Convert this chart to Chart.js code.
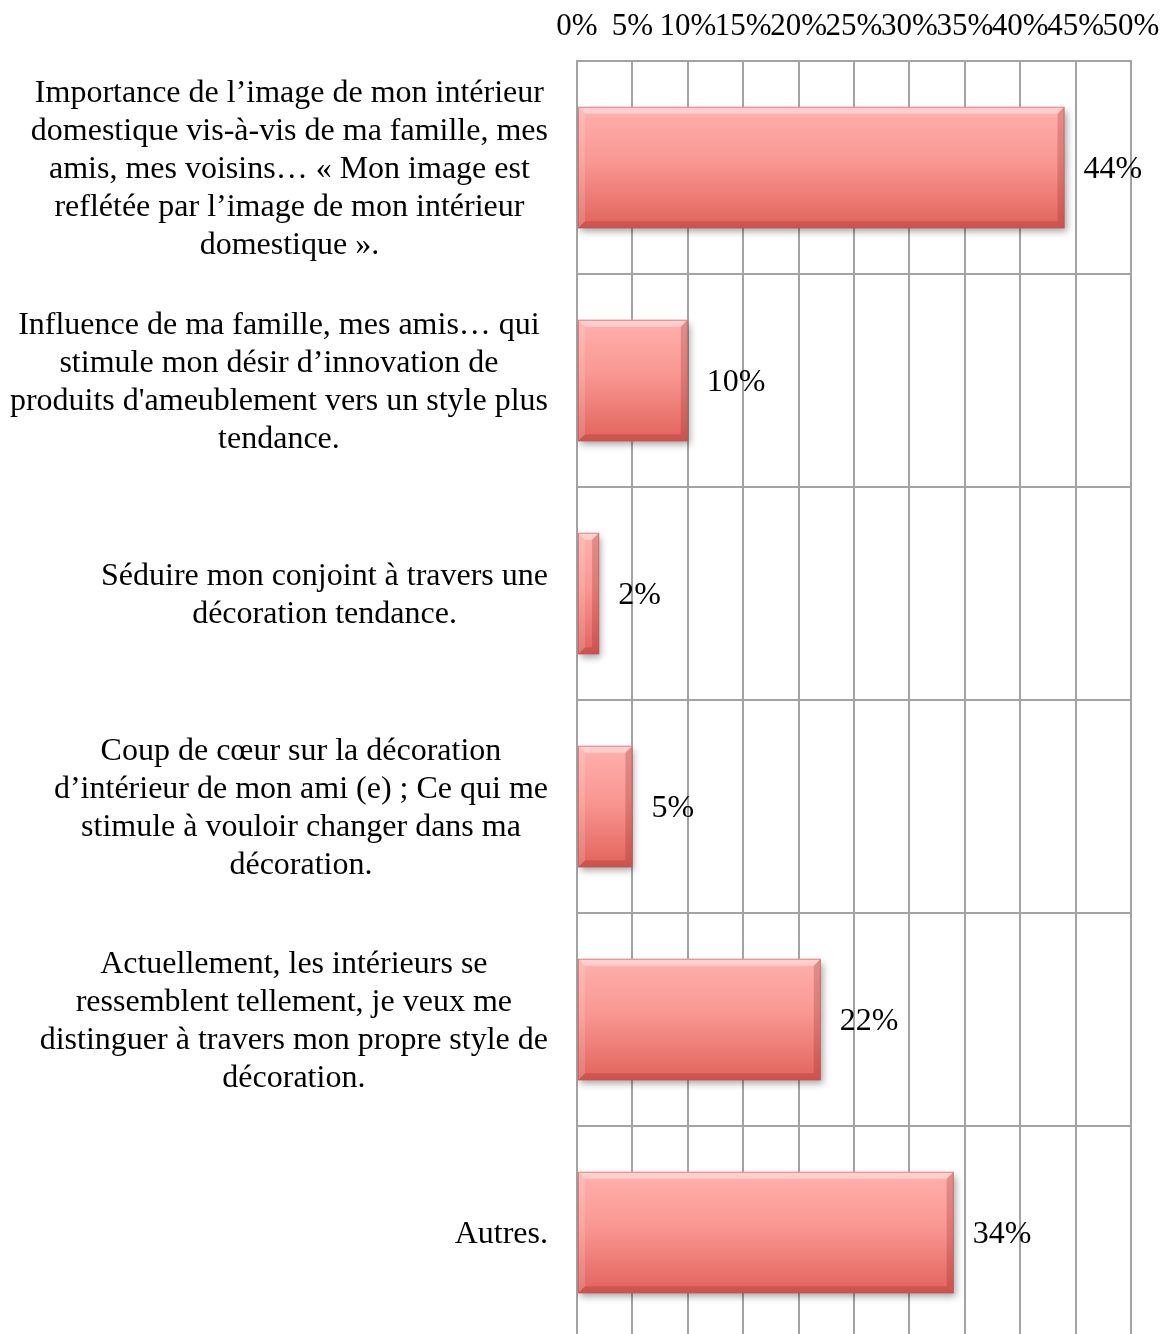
<!DOCTYPE html>
<html>
<head>
<meta charset="utf-8">
<script src="https://cdn.jsdelivr.net/npm/chart.js@4/dist/chart.umd.min.js"></script>
<style>
    html, body { margin: 0; padding: 0; background: #ffffff; overflow: hidden; }
    #wrap { position: relative; width: 1170px; height: 1342px; }
</style>
</head>
<body>
<div id="wrap"><canvas id="barChart"></canvas></div>
<script>
// Chart data
const categoryLabels = [
    ['Importance de l’image de mon intérieur', 'domestique vis-à-vis de ma famille, mes', 'amis, mes voisins… « Mon image est', 'reflétée par l’image de mon intérieur', 'domestique ».'],
    ['Influence de ma famille, mes amis… qui', 'stimule mon désir d’innovation de', 'produits d\'ameublement vers un style plus', 'tendance.'],
    ['Séduire mon conjoint à travers une', 'décoration tendance.'],
    ['Coup de cœur sur la décoration', 'd’intérieur de mon ami (e) ; Ce qui me', 'stimule à vouloir changer dans ma', 'décoration.'],
    ['Actuellement, les intérieurs se', 'ressemblent tellement, je veux me', 'distinguer à travers mon propre style de', 'décoration.'],
    ['Autres.']
];
const percentValues = [44, 10, 2, 5, 22, 34];
const tickLabels = ['0%', '5%', '10%', '15%', '20%', '25%', '30%', '35%', '40%', '45%', '50%'];

const FONT = '"Liberation Serif", "Times New Roman", serif';
const GRID = '#a3a3a3';
const BAR_PCT = 0.57;

// Vertical gradient for each bar, computed from the y scale
function barGradient(context) {
    const chart = context.chart;
    const yScale = chart.scales.y;
    if (!chart.chartArea || !yScale) return '#f48a84';
    const yc = yScale.getPixelForValue(context.dataIndex);
    const band = Math.abs(yScale.getPixelForValue(1) - yScale.getPixelForValue(0));
    const h = band * BAR_PCT;
    const g = chart.ctx.createLinearGradient(0, yc - h / 2, 0, yc + h / 2);
    g.addColorStop(0, '#ffb1ae');
    g.addColorStop(0.45, '#f99791');
    g.addColorStop(1, '#e2635d');
    return g;
}

// Drop shadow, bevel edges and value labels
const barDecor = {
    id: 'barDecor',
    beforeDatasetDraw(chart) {
        const ctx = chart.ctx;
        ctx.save();
        ctx.shadowColor = 'rgba(0, 0, 0, 0.35)';
        ctx.shadowBlur = 7;
        ctx.shadowOffsetX = 2;
        ctx.shadowOffsetY = 4;
    },
    afterDatasetDraw(chart) {
        chart.ctx.restore();
    },
    afterDatasetsDraw(chart) {
        const ctx = chart.ctx;
        const meta = chart.getDatasetMeta(0);
        ctx.save();
        meta.data.forEach((bar, i) => {
            const p = bar.getProps(['x', 'y', 'base', 'height'], true);
            const left = Math.min(p.base, p.x), right = Math.max(p.base, p.x);
            const top = p.y - p.height / 2, bottom = p.y + p.height / 2;
            const b = Math.min(7, (right - left) / 2);

            const poly = (pts, color) => {
                ctx.beginPath();
                ctx.moveTo(pts[0][0], pts[0][1]);
                for (let k = 1; k < pts.length; k++) ctx.lineTo(pts[k][0], pts[k][1]);
                ctx.closePath();
                ctx.fillStyle = color;
                ctx.fill();
            };
            poly([[left, top], [right, top], [right - b, top + b], [left + b, top + b]], 'rgba(255,255,255,0.4)');
            poly([[left, bottom], [right, bottom], [right - b, bottom - b], [left + b, bottom - b]], 'rgba(150,40,36,0.28)');
            poly([[left, top], [left + b, top + b], [left + b, bottom - b], [left, bottom]], 'rgba(255,255,255,0.14)');
            poly([[right, top], [right - b, top + b], [right - b, bottom - b], [right, bottom]], 'rgba(140,30,28,0.24)');

            ctx.strokeStyle = 'rgba(185,85,80,0.55)';
            ctx.lineWidth = 1;
            ctx.strokeRect(left + 0.5, top + 0.5, right - left - 1, bottom - top - 1);

            // value label
            ctx.fillStyle = '#000000';
            ctx.font = '32px ' + FONT;
            ctx.textAlign = 'left';
            ctx.textBaseline = 'middle';
            ctx.fillText(percentValues[i] + '%', right + 19, p.y + 2);
        });
        ctx.restore();
    }
};

// Multi-line category labels, each block centred on its own widest line
const categoryText = {
    id: 'categoryText',
    afterDraw(chart) {
        const ctx = chart.ctx;
        const yScale = chart.scales.y;
        const rightEdge = chart.chartArea.left - 29;
        const lineH = 38;
        ctx.save();
        ctx.font = '32px ' + FONT;
        ctx.fillStyle = '#000000';
        ctx.textAlign = 'center';
        ctx.textBaseline = 'middle';
        categoryLabels.forEach((lines, i) => {
            const yc = yScale.getPixelForTick(i) + 2;
            const maxW = Math.max(...lines.map(l => ctx.measureText(l).width));
            const cx = rightEdge - maxW / 2;
            lines.forEach((line, k) => {
                ctx.fillText(line, cx, yc + (k - (lines.length - 1) / 2) * lineH);
            });
        });
        ctx.restore();
    }
};

new Chart(document.getElementById('barChart'), {
    type: 'bar',
    data: {
        labels: categoryLabels,
        datasets: [{
            data: percentValues,
            backgroundColor: barGradient,
            borderWidth: 0,
            categoryPercentage: 1,
            barPercentage: BAR_PCT
        }]
    },
    options: {
        indexAxis: 'y',
        responsive: true,
        maintainAspectRatio: false,
        animation: false,
        layout: { padding: { left: 0, right: 39, top: 0, bottom: 3 } },
        plugins: {
            legend: { display: false },
            tooltip: { enabled: false }
        },
        scales: {
            x: {
                position: 'top',
                min: 0,
                max: 50,
                afterFit: (scale) => {
                    scale.height = 61;
                    scale.paddingLeft = 0;
                    scale.paddingRight = 0;
                },
                ticks: {
                    stepSize: 5,
                    autoSkip: false,
                    maxRotation: 0,
                    minRotation: 0,
                    padding: 16,
                    color: '#000000',
                    font: { family: FONT, size: 31 },
                    callback: (v, i) => tickLabels[i]
                },
                grid: { color: GRID, lineWidth: 2, drawTicks: false },
                border: { color: GRID, width: 2 }
            },
            y: {
                afterFit: (scale) => { scale.width = 577; },
                ticks: { display: false },
                grid: { color: GRID, lineWidth: 2, drawTicks: false, offset: true },
                border: { color: GRID, width: 2 }
            }
        }
    },
    plugins: [barDecor, categoryText]
});
</script>
</body>
</html>
